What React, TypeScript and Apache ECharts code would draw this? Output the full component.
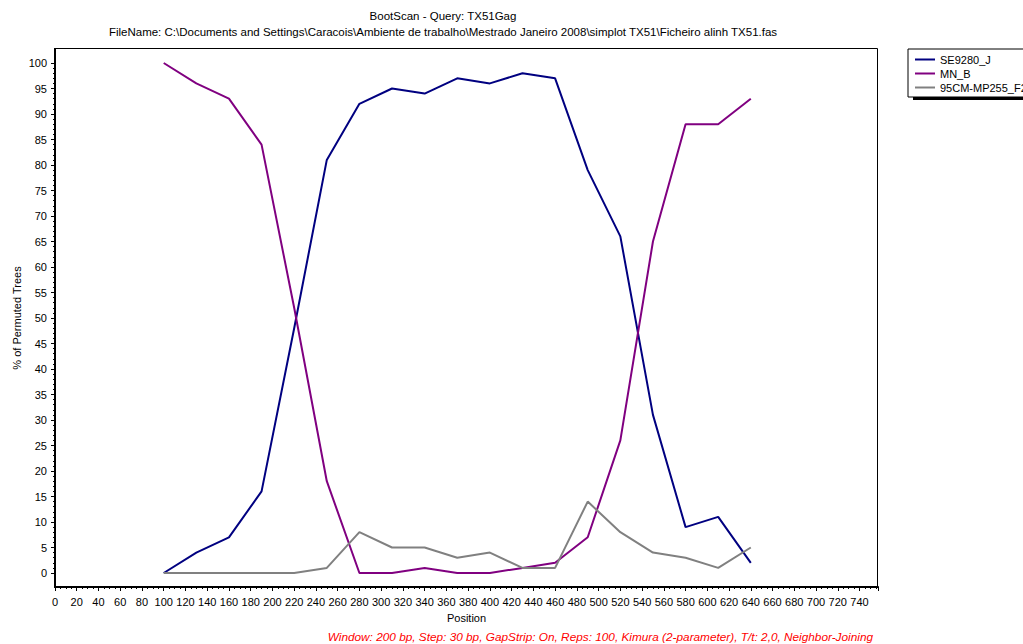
import React, { useEffect, useRef } from "react";
import * as echarts from "echarts";

const positions = [100, 130, 160, 190, 220, 250, 280, 310, 340, 370, 400, 430, 460, 490, 520, 550, 580, 610, 640];
const se9280J = [0, 4, 7, 16, 48, 81, 92, 95, 94, 97, 96, 98, 97, 79, 66, 31, 9, 11, 2];
const mnB = [100, 96, 93, 84, 52, 18, 0, 0, 1, 0, 0, 1, 2, 7, 26, 65, 88, 88, 93];
const cm95 = [0, 0, 0, 0, 0, 1, 8, 5, 5, 3, 4, 1, 1, 14, 8, 4, 3, 1, 5];

const seriesNames = ["SE9280_J", "MN_B", "95CM-MP255_F2"];
const seriesColors = ["#000080", "#800080", "#808080"];

const titleText = "BootScan - Query: TX51Gag";
const subtitleText =
  "FileName: C:\\Documents and Settings\\Caracois\\Ambiente de trabalho\\Mestrado Janeiro 2008\\simplot TX51\\Ficheiro alinh TX51.fas";
const footerText =
  "Window: 200 bp, Step: 30 bp, GapStrip: On, Reps: 100, Kimura (2-parameter), T/t: 2,0, Neighbor-Joining";

const FONT = "'Liberation Sans', Arial, sans-serif";

export default function App() {
  const ref = useRef<HTMLDivElement>(null);
  useEffect(() => {
    if (!ref.current) return;
    const chart = echarts.init(ref.current, undefined, { renderer: "svg" });
    const allValues = [se9280J, mnB, cm95];
    chart.setOption({
      animation: false,
      backgroundColor: "#ffffff",
      textStyle: { fontFamily: FONT },
      grid: { left: 55, top: 63, width: 823, height: 510, show: false },
      xAxis: {
        type: "value",
        min: 0,
        max: 757,
        interval: 20,
        offset: 14,
        name: "Position",
        nameLocation: "middle",
        nameGap: 25,
        nameTextStyle: { fontSize: 11, color: "#000", fontFamily: FONT },
        axisLine: { show: true, onZero: false, lineStyle: { color: "#000", width: 2 } },
        axisTick: { show: true, length: 4, lineStyle: { color: "#000", width: 1 } },
        minorTick: { show: true, splitNumber: 4, length: 2, lineStyle: { color: "#000", width: 1 } },
        axisLabel: { fontSize: 11, color: "#000", margin: 9, showMaxLabel: false, fontFamily: FONT },
        splitLine: { show: false },
      },
      yAxis: {
        type: "value",
        min: 0,
        max: 100,
        interval: 5,
        axisLine: { show: false, onZero: false },
        axisTick: { show: true, length: 4, lineStyle: { color: "#000", width: 1 } },
        minorTick: { show: true, splitNumber: 5, length: 2, lineStyle: { color: "#000", width: 1 } },
        axisLabel: { fontSize: 11, color: "#000", margin: 8, fontFamily: FONT },
        splitLine: { show: false },
      },
      legend: {
        orient: "vertical",
        left: 908,
        top: 49,
        padding: [5, 12, 4, 6],
        itemWidth: 20,
        itemHeight: 11,
        itemGap: 3,
        backgroundColor: "#ffffff",
        borderColor: "#000",
        borderWidth: 1,
        borderRadius: 0,
        itemStyle: { opacity: 0 },
        lineStyle: { opacity: 1, width: 2 },
        textStyle: { fontSize: 11, color: "#000", fontFamily: FONT },
        data: seriesNames,
      },
      series: seriesNames.map((name, si) => ({
        name,
        type: "line",
        symbol: "none",
        showSymbol: false,
        clip: false,
        color: seriesColors[si],
        lineStyle: { color: seriesColors[si], width: 2 },
        data: positions.map((p, i) => [p, allValues[si][i]]),
      })),
      graphic: [
        {
          type: "rect",
          z: 1,
          shape: { x: 913, y: 53, width: 200, height: 47 },
          style: { fill: "#000" },
        },
        {
          type: "rect",
          z: 0,
          shape: { x: 55.5, y: 48.5, width: 822, height: 538 },
          style: { fill: "none", stroke: "#000", lineWidth: 1 },
        },
        {
          type: "line",
          z: 0,
          shape: { x1: 55, y1: 48, x2: 55, y2: 588 },
          style: { stroke: "#000", lineWidth: 2 },
        },
        {
          type: "text",
          x: 443,
          y: 16,
          style: { text: titleText, align: "center", verticalAlign: "middle", fontSize: 11.5, fontFamily: FONT, fill: "#000" },
        },
        {
          type: "text",
          x: 443,
          y: 32,
          style: { text: subtitleText, align: "center", verticalAlign: "middle", fontSize: 11.5, fontFamily: FONT, fill: "#000" },
        },
        {
          type: "text",
          x: 17,
          y: 318,
          rotation: Math.PI / 2,
          style: { text: "% of Permuted Trees", align: "center", verticalAlign: "middle", fontSize: 11, fontFamily: FONT, fill: "#000" },
        },
        {
          type: "text",
          x: 873,
          y: 637,
          style: { text: footerText, align: "right", verticalAlign: "middle", fontSize: 11.8, fontStyle: "italic", fontFamily: FONT, fill: "#ff0000" },
        },
      ],
    });
    return () => chart.dispose();
  }, []);
  return (
    <div
      ref={ref}
      style={{ position: "fixed", left: 0, top: 0, width: 1023, height: 644, background: "#fff" }}
    />
  );
}
